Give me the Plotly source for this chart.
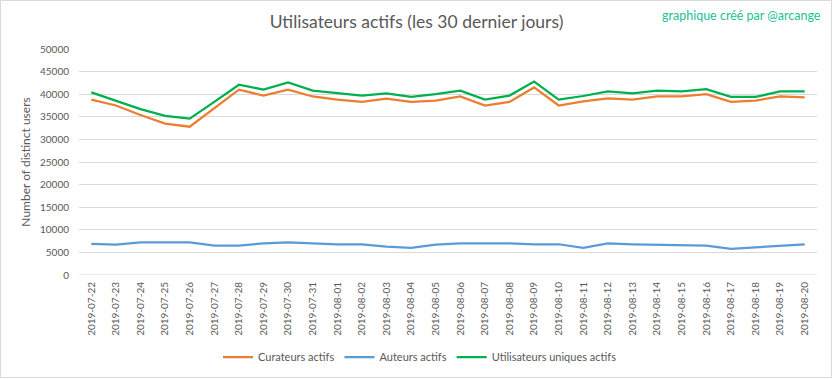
import plotly.graph_objects as go

dates = ["2019-07-22", "2019-07-23", "2019-07-24", "2019-07-25", "2019-07-26", "2019-07-27",
         "2019-07-28", "2019-07-29", "2019-07-30", "2019-07-31", "2019-08-01", "2019-08-02",
         "2019-08-03", "2019-08-04", "2019-08-05", "2019-08-06", "2019-08-07", "2019-08-08",
         "2019-08-09", "2019-08-10", "2019-08-11", "2019-08-12", "2019-08-13", "2019-08-14",
         "2019-08-15", "2019-08-16", "2019-08-17", "2019-08-18", "2019-08-19", "2019-08-20"]

curateurs = [38800, 37500, 35400, 33500, 32800, 36900, 41000, 39700, 41000, 39500,
             38800, 38300, 39000, 38300, 38600, 39500, 37500, 38300, 41500, 37500,
             38400, 39100, 38800, 39500, 39500, 40000, 38300, 38600, 39500, 39300]

auteurs = [6900, 6700, 7200, 7200, 7200, 6500, 6500, 7000, 7200, 7000,
           6800, 6800, 6300, 6000, 6700, 7000, 7000, 7000, 6800, 6800,
           6000, 7000, 6800, 6700, 6500, 6500, 5800, 6100, 6500, 6800]

uniques = [40400, 38600, 36700, 35200, 34600, 38300, 42100, 41000, 42600, 40800,
           40200, 39700, 40200, 39400, 40000, 40800, 38800, 39700, 42800, 38800,
           39600, 40600, 40200, 40800, 40600, 41100, 39400, 39400, 40600, 40600]

FONT = "Lato, 'Open Sans', sans-serif"
GREY = "#595959"

fig = go.Figure()
fig.add_trace(go.Scatter(x=dates, y=curateurs, mode="lines", name="Curateurs actifs",
                         line=dict(color="#ED7D31", width=2.25)))
fig.add_trace(go.Scatter(x=dates, y=auteurs, mode="lines", name="Auteurs actifs",
                         line=dict(color="#5B9BD5", width=2.25)))
fig.add_trace(go.Scatter(x=dates, y=uniques, mode="lines", name="Utilisateurs uniques actifs",
                         line=dict(color="#00B050", width=2.25)))

L, R, T, B = 79, 16, 49, 104
W, H = 833, 379
pw, ph = W - L - R, H - T - B

def px(x):
    return (x - L) / pw

def py(y):
    return (H - B - y) / ph

fig.update_layout(
    width=W, height=H,
    margin=dict(l=L, r=R, t=T, b=B, autoexpand=False),
    paper_bgcolor="white", plot_bgcolor="white",
    font=dict(family=FONT, color=GREY, size=11),
    title=dict(text="Utilisateurs actifs (les 30 dernier jours)", x=0.5, xanchor="center",
               y=1 - 22 / H, yanchor="middle",
               font=dict(family=FONT, size=17.5, color=GREY)),
    showlegend=True,
    legend=dict(orientation="h", x=px(420), xanchor="center", y=py(357), yanchor="middle",
                font=dict(family=FONT, size=11, color=GREY), itemwidth=30,
                tracegroupgap=0),
    xaxis=dict(type="category", tickangle=-90, showgrid=False, zeroline=False,
               showline=False, ticks="", automargin=False, ticklabelstandoff=4,
               tickfont=dict(family=FONT, size=10, color=GREY),
               range=[-0.5, len(dates) - 0.5]),
    yaxis=dict(range=[0, 50000], dtick=5000, showgrid=True, gridcolor="#D9D9D9",
               gridwidth=1, zeroline=False, showline=False, ticks="", automargin=False,
               ticklabelstandoff=9,
               tickformat="d", tickfont=dict(family=FONT, size=10, color=GREY),
               title=dict(text="Number of distinct users", standoff=6,
                          font=dict(family=FONT, size=12, color=GREY))),
    shapes=[dict(type="line", xref="paper", yref="y", x0=0, x1=1, y0=0, y1=0,
                 line=dict(color="#D9D9D9", width=1)),
            dict(type="rect", xref="paper", yref="paper",
                 x0=px(0.5), x1=px(W - 1.5), y0=py(0.5), y1=py(H - 1.5),
                 line=dict(color="#D9D9D9", width=1), layer="below")],
    annotations=[dict(text="graphique créé par @arcange", xref="paper", yref="paper",
                      x=px(823), y=py(15), xanchor="right", yanchor="middle",
                      showarrow=False, font=dict(family=FONT, size=12.5, color="#1DBF98"))],
)

fig.write_html("out.html", config={"displayModeBar": False},
               post_script="document.body.style.margin='0';document.body.style.overflow='hidden';")
